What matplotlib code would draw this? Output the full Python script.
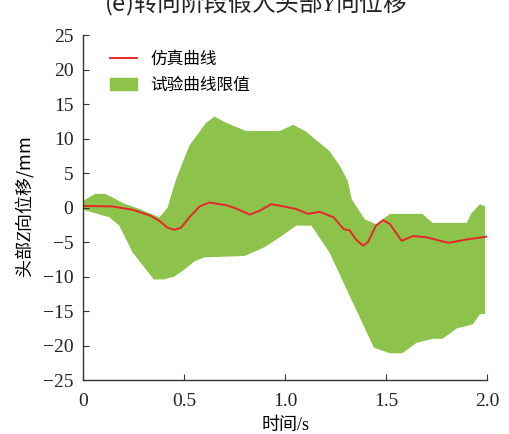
import matplotlib
matplotlib.use('Agg')
import matplotlib.pyplot as plt
from matplotlib.patches import Patch
from matplotlib.lines import Line2D

plt.rcParams['font.family'] = ['Liberation Serif', 'Noto Sans CJK SC', 'DejaVu Sans']
plt.rcParams['mathtext.fontset'] = 'custom'
plt.rcParams['mathtext.it'] = 'Liberation Serif:italic'
plt.rcParams['mathtext.rm'] = 'Liberation Serif'
plt.rcParams['font.size'] = 13

# upper limit of test curves
up_t = [0, 0.06, 0.11, 0.21, 0.28, 0.377, 0.418, 0.46, 0.526, 0.609, 0.65, 0.708, 0.807,
        0.973, 1.04, 1.10, 1.22, 1.27, 1.31, 1.33, 1.395, 1.45, 1.52, 1.68, 1.73,
        1.90, 1.92, 1.965, 1.99]
up_v = [1.0, 2.0, 2.0, 0.5, -0.2, -1.4, 0.0, 4.1, 9.0, 12.3, 13.2, 12.3, 11.1,
        11.1, 12.0, 11.1, 8.2, 6.1, 3.9, 1.2, -1.7, -2.4, -0.9, -0.9, -2.2,
        -2.2, -0.9, 0.5, 0.2]

# lower limit of test curves
lo_t = [0, 0.13, 0.179, 0.245, 0.35, 0.40, 0.45, 0.5, 0.55, 0.6, 0.8, 0.9, 0.973,
        1.055, 1.13, 1.22, 1.32, 1.44, 1.52, 1.58, 1.65, 1.73, 1.78, 1.85, 1.93,
        1.965, 1.99]
lo_v = [-0.3, -1.4, -2.6, -6.5, -10.4, -10.4, -10.0, -9.0, -7.8, -7.2, -7.0, -5.7, -4.3,
        -2.6, -2.6, -6.5, -12.8, -20.3, -21.1, -21.1, -19.6, -19.0, -19.0, -17.5, -16.9,
        -15.4, -15.4]

# simulation curve
sim_t = [0, 0.146, 0.245, 0.336, 0.377, 0.418, 0.452, 0.485, 0.526, 0.576, 0.625,
         0.708, 0.757, 0.824, 0.873, 0.931, 0.973, 1.055, 1.113, 1.17, 1.24, 1.29,
         1.32, 1.35, 1.386, 1.41, 1.45, 1.486, 1.52, 1.577, 1.634, 1.70, 1.81, 1.90,
         1.998]
sim_v = [0.26, 0.17, -0.3, -1.2, -1.9, -2.9, -3.2, -2.9, -1.4, 0.17, 0.75,
         0.36, -0.1, -1.0, -0.46, 0.5, 0.3, -0.2, -0.9, -0.6, -1.4, -3.1,
         -3.3, -4.6, -5.5, -5.0, -2.6, -1.8, -2.4, -4.8, -4.1, -4.3, -5.1, -4.6,
         -4.2]

green = '#8dc24b'
red = '#e8262a'
cjk = ['Noto Sans CJK SC']

fig = plt.figure(figsize=(5.1, 4.34), dpi=100)
ax = fig.add_axes([0.163, 0.124, 0.792, 0.795])

ax.fill(up_t + lo_t[::-1], up_v + lo_v[::-1], color=green, lw=0)
ax.plot(sim_t, sim_v, color=red, lw=1.4, solid_joinstyle='round')

ax.set_xlim(0, 2.0)
ax.set_ylim(-25, 25)
ax.set_xticks([0, 0.5, 1.0, 1.5, 2.0])
ax.set_xticklabels(['0', '0.5', '1.0', '1.5', '2.0'])
ax.set_yticks(range(-25, 30, 5))
ax.tick_params(direction='in', length=4, color='#333333', labelcolor='#222222',
               labelsize=14)
ax.tick_params(axis='x', pad=9)
ax.tick_params(axis='y', pad=7)
ax.spines['top'].set_visible(False)
ax.spines['right'].set_visible(False)
for s in ['left', 'bottom']:
    ax.spines[s].set_color('#333333')
    ax.spines[s].set_linewidth(1.0)

ax.set_xlabel('时间/s', fontsize=13, labelpad=5)
ax.set_ylabel('头部$Z$向位移/mm', fontsize=13, labelpad=5, family=cjk)

handles = [Line2D([], [], color=red, lw=1.4), Patch(color=green)]
ax.legend(handles, ['仿真曲线', '试验曲线限值'], loc='upper left', frameon=False,
          fontsize=12, bbox_to_anchor=(0.03, 0.995), handlelength=1.6, labelspacing=0.6)

fig.text(0.5, 1 - 3 / 434, '(e)转向阶段假人头部$Y$向位移', ha='center', va='center',
         fontsize=17, color='#222222', family=cjk)

fig.savefig('out.png', dpi=100)
